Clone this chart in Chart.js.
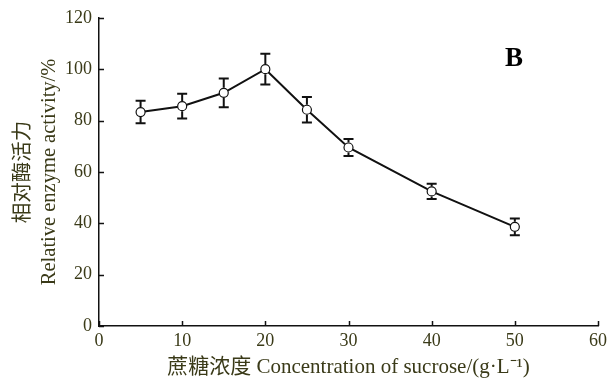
<!DOCTYPE html>
<html>
<head>
<meta charset="utf-8">
<script src="https://cdn.jsdelivr.net/npm/chart.js@4/dist/chart.umd.min.js"></script>
<style>
  html, body { margin: 0; padding: 0; background: #ffffff; }
  #wrap { width: 614px; height: 380px; }
</style>
</head>
<body>
<div id="wrap"><canvas id="c" width="614" height="380"></canvas></div>
<script>
// Sucrose concentration (g/L) and relative enzyme activity (%) with SD
const sucrose = [5, 10, 15, 20, 25, 30, 40, 50];
const activity = [83.3, 85.6, 90.8, 100.0, 84.2, 69.5, 52.4, 38.6];
const activitySD = [4.4, 4.8, 5.6, 6.0, 5.0, 3.3, 3.0, 3.3];
const xTicks = [0, 10, 20, 30, 40, 50, 60];
const yTicks = [0, 20, 40, 60, 80, 100, 120];

const TEXT = '#3a3a18';
const SERIF = '"Liberation Serif", "Times New Roman", "Noto Sans CJK SC", serif';

// Vertical error bars with caps, placed through the scales
const errorBars = {
  id: 'errorBars',
  afterDatasetsDraw(chart) {
    const { ctx, scales: { x, y } } = chart;
    ctx.save();
    ctx.strokeStyle = '#111';
    ctx.lineWidth = 2;
    const cap = 5;
    sucrose.forEach((v, i) => {
      const px = x.getPixelForValue(v);
      const top = y.getPixelForValue(activity[i] + activitySD[i]);
      const bot = y.getPixelForValue(activity[i] - activitySD[i]);
      const mid = y.getPixelForValue(activity[i]);
      const r = 5;
      ctx.beginPath();
      ctx.moveTo(px, top); ctx.lineTo(px, mid - r);
      ctx.moveTo(px, mid + r); ctx.lineTo(px, bot);
      ctx.moveTo(px - cap, top); ctx.lineTo(px + cap, top);
      ctx.moveTo(px - cap, bot); ctx.lineTo(px + cap, bot);
      ctx.stroke();
    });
    ctx.restore();
  }
};

// Tick marks pointing into the plot area
const innerTicks = {
  id: 'innerTicks',
  afterDraw(chart) {
    const { ctx, scales: { x, y } } = chart;
    const len = 5;
    ctx.save();
    ctx.strokeStyle = '#111';
    ctx.lineWidth = 1.5;
    ctx.beginPath();
    xTicks.forEach(v => {
      const px = Math.round(x.getPixelForValue(v)) + 0.5;
      ctx.moveTo(px, y.bottom); ctx.lineTo(px, y.bottom - len);
    });
    yTicks.forEach(v => {
      const py = Math.round(y.getPixelForValue(v)) + 0.5;
      ctx.moveTo(x.left, py); ctx.lineTo(x.left + len, py);
    });
    ctx.stroke();
    ctx.restore();
  }
};

// Panel letter
const panelLabel = {
  id: 'panelLabel',
  afterDraw(chart) {
    const { ctx } = chart;
    ctx.save();
    ctx.fillStyle = '#000';
    ctx.font = 'bold 27px ' + SERIF;
    ctx.textAlign = 'center';
    ctx.textBaseline = 'middle';
    ctx.fillText('B', 514, 59);
    ctx.restore();
  }
};

new Chart(document.getElementById('c'), {
  type: 'line',
  data: {
    datasets: [{
      data: sucrose.map((v, i) => ({ x: v, y: activity[i] })),
      borderColor: '#111',
      borderWidth: 2,
      pointRadius: 4.5,
      pointBorderWidth: 1.2,
      pointBackgroundColor: '#ffffff',
      pointBorderColor: '#111',
      tension: 0
    }]
  },
  options: {
    responsive: false,
    animation: false,
    layout: { padding: { top: 15, right: 16, left: 0, bottom: 0 } },
    plugins: { legend: { display: false }, tooltip: { enabled: false } },
    scales: {
      x: {
        type: 'linear',
        min: 0, max: 60,
        afterBuildTicks: s => { s.ticks = xTicks.map(v => ({ value: v })); },
        afterFit: s => { s.height = 54; },
        grid: { display: true, drawOnChartArea: false, drawTicks: false },
        border: { color: '#111', width: 1.5 },
        ticks: { color: TEXT, font: { family: SERIF, size: 18 }, padding: 4, maxRotation: 0 },
        title: {
          display: true,
          text: '蔗糖浓度 Concentration of sucrose/(g·L⁻¹)',
          color: TEXT,
          font: { family: SERIF, size: 21 },
          padding: { top: 0, bottom: 0 }
        }
      },
      y: {
        type: 'linear',
        min: 0, max: 120,
        afterBuildTicks: s => { s.ticks = yTicks.map(v => ({ value: v })); },
        afterFit: s => { s.width = 99; },
        grid: { display: true, drawOnChartArea: false, drawTicks: false },
        border: { color: '#111', width: 1.5 },
        ticks: { color: TEXT, font: { family: SERIF, size: 18 }, padding: 7 },
        title: {
          display: true,
          text: ['相对酶活力', 'Relative enzyme activity/%'],
          color: TEXT,
          font: { family: SERIF, size: 20.5, lineHeight: 1.27 },
          padding: { top: 11, bottom: 0 }
        }
      }
    }
  },
  plugins: [errorBars, innerTicks, panelLabel]
});
</script>
</body>
</html>
